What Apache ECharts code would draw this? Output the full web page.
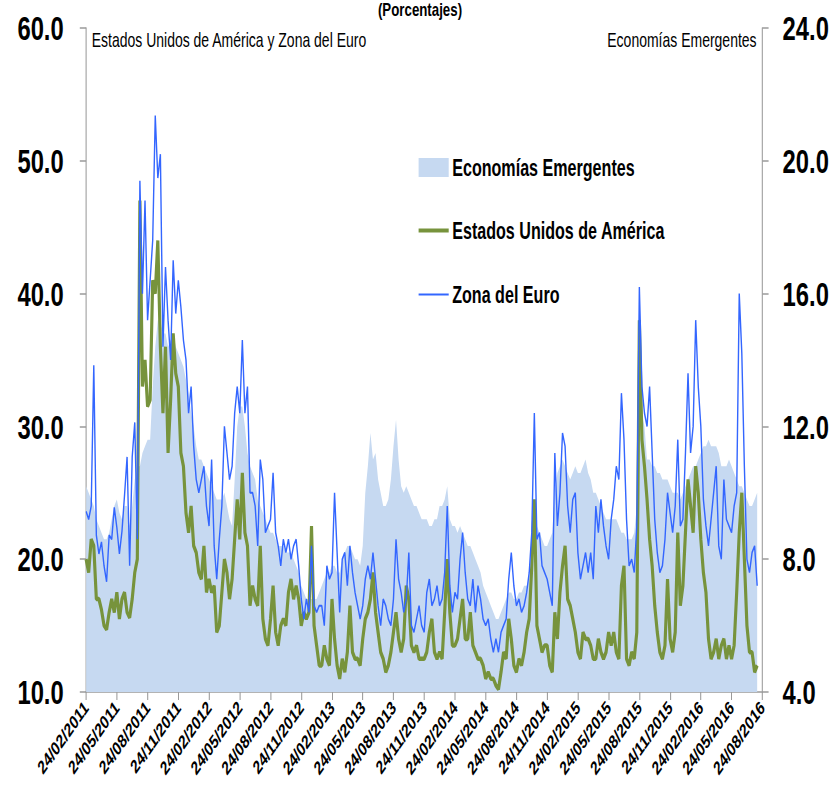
<!DOCTYPE html>
<html>
<head>
<meta charset="utf-8">
<script src="https://cdn.jsdelivr.net/npm/echarts@6/dist/echarts.min.js"></script>
<style>
html,body{margin:0;padding:0;background:#fff;overflow:hidden;width:840px;height:790px;}
#wrap{width:840px;height:790px;overflow:hidden;position:relative;}
#chart{width:1200px;height:790px;transform:scaleX(0.7);transform-origin:0 0;}
</style>
</head>
<body>
<div id="wrap"><div id="chart"></div></div>
<script>
// Categories: roughly weekly observation dates (24th, 1st, 9th, 16th) from 24/02/2011 to 24/08/2016
const categories = [];
(function(){
  const pad = n => (n < 10 ? '0' : '') + n;
  for (let k = 0; k <= 66; k++) {
    const m1 = (1 + k) % 12, y1 = 2011 + Math.floor((1 + k) / 12);
    categories.push('24/' + pad(m1 + 1) + '/' + y1);
    if (k < 66) {
      const m2 = (2 + k) % 12, y2 = 2011 + Math.floor((2 + k) / 12);
      ['01', '09', '16'].forEach(d => categories.push(d + '/' + pad(m2 + 1) + '/' + y2));
    }
  }
})();

// Zona del Euro (left axis, %)
const zonaEuro = [
23.6,23,24,34.6,21.8,20.4,21.3,19.5,18.3,21.8,21.5,23.9,22.4,20.4,22.1,24.8,27.7,19.5,27.7,30.3,21.5,48.5,40,47,38,41,44,53.4,48.7,50.5,36,42,38,35,42.5,38.5,41,39,36.5,35,31,33,28.5,26,25,
26,27,24,22.5,27.5,21,18.5,21.5,24,30,28,26,27,31,33,31,36.5,31,33,25,25,24,21,27.5,26,22,22.5,23,26.5,22,21,19.5,21.5,20.5,21.5,20,21,21.5,19.5,17,15.5,17,16,
21,16.5,16,16.5,16.5,15,19.5,18.5,19,25,20.5,16,20,20.5,18,21,19,17.5,16.5,15.5,16.5,18.5,19.5,18.5,20.5,18.5,16.5,15,17,16.5,15.5,15,17,21.5,18.5,17.5,16,17,20.5,15,14.5,15.5,16.5,15,
14.5,17.5,18.5,16.5,17,18,16.5,17,19,24,18,16,17.5,17,20,22,19,17,16.5,18.5,16,18,17,15.5,15,15.5,14,13,14,13,14.5,15,15.5,18.5,20.5,18,16.5,17,16,16.5,17.5,19,22,31,
21.5,22,19.5,19,18.5,17.5,16.5,28,22.5,25,29.5,28.5,24,22,24.5,25,20.5,18.5,19.5,20.5,19,20.5,18.5,24,22,24.5,22.5,21,20,23,24.5,27,26,32.5,29,23,19.5,20,19,22.5,40.5,33,31,30,
33,28,23,20.5,19,19.5,21.5,25,23.5,22,24,29,22.5,23,28,34,28,30,38,33,30,24.5,22.5,21,23,25,27,21,20,26,23,22.5,22,24,25,40,35.5,27,20,19,20.5,21,18,
null,null
];

// Estados Unidos de América (left axis, %)
const eeuu = [
20,19,21.5,21,17,17,16.2,15,14.7,16,17,16,17.5,15.5,17,17.5,16,15.6,17,19,20,47,33,35,31.5,32,41,40,44,36,31,36,28,32,37,34,33,28,27,23.5,22,24,21,20.5,19,
18.5,21,17.5,18.5,17.5,18,14.5,15,17.5,20,19,17,18.5,21.5,24.5,21.5,26.5,22,21,16.5,18,17,16.5,21,15.5,14,13.5,15.5,18,14.5,13.5,15,15.5,15,17.5,18.5,17,18,17,15,16,15.5,16,
22.5,15,13.5,12,12,13.5,12.5,12,17,14,12,11,12.5,11.5,13,16.5,13,12.5,12.5,12,14,15.5,16,17,19,16,14.5,13,12.5,11.5,12,13,14.5,16,14,13,14,18,17,13.5,13,13.5,12.5,12.5,
12.5,13,14.5,15.5,13,12.5,13,12.5,16,20,16,13.5,13.5,14,15.5,17,14,14,16,13.5,13,12.5,12.5,12,11,11.5,11,11,10.5,10.2,11.5,13,12.5,15.5,14,12,11.5,12.5,12,13,14.5,15.5,19.5,24.5,
15,14,13,13.5,13.5,12,11.5,16,14,17.5,19.5,21,17,16.5,15.5,14.5,13,12.5,14.5,14,14,13.5,12.5,12.5,14,13,12.5,13,14.5,13.5,14.5,13,12.5,18,19.5,12.5,12,13,12.5,14.5,38,29,27,24.5,
21.5,19.5,16.5,14.5,13,12.5,13.5,18.5,14,13,14.5,22,16.5,18,22,26,24,22,27,25,21.5,19,17.5,14,12.5,13,14,12.5,13.5,14,12.5,13.5,12.5,13.5,17.5,22,25,20,15,13,13,11.5,12,
null,null
];

// Economías Emergentes (right axis, %)
const emergentes = [
10.2,10.0,9.8,9.6,9.2,9.0,8.8,8.6,8.6,8.8,9.2,9.6,9.8,9.4,9.2,9.6,9.6,9.0,9.6,10.4,10.8,10.8,11.2,11.4,11.6,11.6,13.2,14.4,15.2,15.2,14.8,14.8,14.4,14.6,14.8,14.4,14.2,14.0,13.8,13.4,13.0,12.4,12.0,11.4,11.0,
11.0,10.8,10.6,10.4,10.2,10.0,9.8,9.8,9.8,10.0,9.6,9.2,9.0,10.4,12.0,12.6,12.6,12.0,11.2,10.8,10.6,10.4,9.8,9.6,9.4,9.2,9.0,8.8,8.8,8.6,8.4,8.4,8.4,8.2,8.2,8.2,8.0,7.8,7.6,7.2,7.0,6.8,6.8,
6.8,6.8,6.8,7.0,7.2,7.4,7.6,7.6,7.8,7.8,7.6,7.6,8.0,8.2,8.4,8.4,8.2,8.0,8.0,7.8,8.4,10.0,10.8,11.8,11.0,11.2,10.4,10.0,9.6,9.6,9.8,10.4,11.4,12.2,11.0,10.2,10.0,10.2,10.0,9.8,9.6,9.6,9.4,9.2,
9.2,9.2,9.0,9.0,9.2,9.2,9.6,9.6,9.8,10.2,9.2,9.0,9.0,8.8,9.0,8.8,8.6,8.4,8.4,8.2,8.0,7.8,7.6,7.2,7.0,6.8,6.6,6.4,6.2,6.2,6.4,6.6,6.8,7.0,7.0,6.8,6.8,7.0,7.0,7.2,7.2,7.4,8.0,8.8,
9.0,8.8,8.6,8.4,8.4,8.6,8.8,10.0,10.6,10.8,11.0,10.8,10.6,10.4,10.6,10.8,10.6,10.6,10.8,11.0,10.6,10.4,10.0,10.0,9.8,9.6,9.4,9.2,9.2,9.2,9.2,9.2,9.0,8.8,8.8,8.6,8.6,8.6,8.8,9.6,12.0,12.4,12.0,11.0,
11.0,10.8,10.8,10.6,10.6,10.4,10.4,10.4,10.2,10.0,10.0,10.0,9.8,10.0,10.2,10.4,10.6,10.8,10.8,11.0,11.2,11.4,11.4,11.6,11.4,11.4,11.4,11.2,10.8,10.8,10.8,11.0,10.8,10.6,10.4,10.2,10.2,10.0,9.8,9.6,9.6,9.8,10.0,
null,null
];

const leftTicks = {min: 10, max: 60, interval: 10};
const rightTicks = {min: 4, max: 24, interval: 4};

const FONT = "'Liberation Sans',Arial,sans-serif";
const chart = echarts.init(document.getElementById('chart'), null, {renderer: 'svg'});
const legendText = {color: '#000', fontFamily: FONT, fontWeight: 'bold', fontSize: 23};
const axisGrey = '#9a9a9a';

chart.setOption({
  animation: false,
  backgroundColor: '#fff',
  title: {
    text: '(Porcentajes)', left: 'center', top: 0, padding: 0,
    textStyle: {fontFamily: FONT, fontWeight: 'bold', fontSize: 19, color: '#000'}
  },
  grid: {left: 123, right: 111, top: 28, bottom: 98},
  legend: [
    {data: [{name: 'Economías Emergentes', icon: 'rect'}], left: 593, top: 151, itemWidth: 43, itemHeight: 19, textStyle: legendText},
    {data: [{name: 'Estados Unidos de América', icon: 'rect'}], left: 593, top: 214, itemWidth: 43, itemHeight: 4, textStyle: legendText},
    {data: [{name: 'Zona del Euro', icon: 'rect'}], left: 593, top: 278, itemWidth: 43, itemHeight: 2, textStyle: legendText}
  ],
  graphic: [
    {type: 'text', left: 131, top: 30, style: {text: 'Estados Unidos de América y Zona del Euro', font: '20px ' + FONT, fill: '#000'}},
    {type: 'text', right: 119, top: 30, style: {text: 'Economías Emergentes', font: '20px ' + FONT, fill: '#000'}}
  ],
  xAxis: {
    type: 'category', data: categories, boundaryGap: false,
    axisLine: {lineStyle: {color: axisGrey, width: 1.5}},
    axisTick: {interval: 11, length: 8, lineStyle: {color: axisGrey, width: 1.5}},
    axisLabel: {interval: 11, rotate: 45, margin: 12, color: '#000', fontFamily: FONT, fontWeight: 'bold', fontSize: 19}
  },
  yAxis: [
    {type: 'value', min: leftTicks.min, max: leftTicks.max, interval: leftTicks.interval, position: 'left',
     splitLine: {show: false},
     axisLine: {show: true, lineStyle: {color: axisGrey, width: 1.5}},
     axisTick: {show: true, length: 9, lineStyle: {color: axisGrey, width: 1.5}},
     axisLabel: {margin: 32, color: '#000', fontFamily: FONT, fontWeight: 'bold', fontSize: 34, formatter: v => v.toFixed(1)}},
    {type: 'value', min: rightTicks.min, max: rightTicks.max, interval: rightTicks.interval, position: 'right',
     splitLine: {show: false},
     axisLine: {show: true, lineStyle: {color: axisGrey, width: 1.5}},
     axisTick: {show: true, length: 9, lineStyle: {color: axisGrey, width: 1.5}},
     axisLabel: {margin: 29, color: '#000', fontFamily: FONT, fontWeight: 'bold', fontSize: 34, formatter: v => v.toFixed(1)}}
  ],
  series: [
    {name: 'Economías Emergentes', type: 'line', yAxisIndex: 1, data: emergentes, showSymbol: false, symbol: 'none',
     itemStyle: {color: '#c6d9f1'}, lineStyle: {width: 0, color: '#c6d9f1'}, areaStyle: {color: '#c6d9f1', opacity: 1}, z: 1},
    {name: 'Estados Unidos de América', type: 'line', yAxisIndex: 0, data: eeuu, showSymbol: false, symbol: 'none',
     itemStyle: {color: '#77933c'}, lineStyle: {width: 4.5, color: '#77933c'}, z: 2},
    {name: 'Zona del Euro', type: 'line', yAxisIndex: 0, data: zonaEuro, showSymbol: false, symbol: 'none',
     itemStyle: {color: '#3366ff'}, lineStyle: {width: 2, color: '#3366ff'}, z: 3}
  ]
});
</script>
</body>
</html>
